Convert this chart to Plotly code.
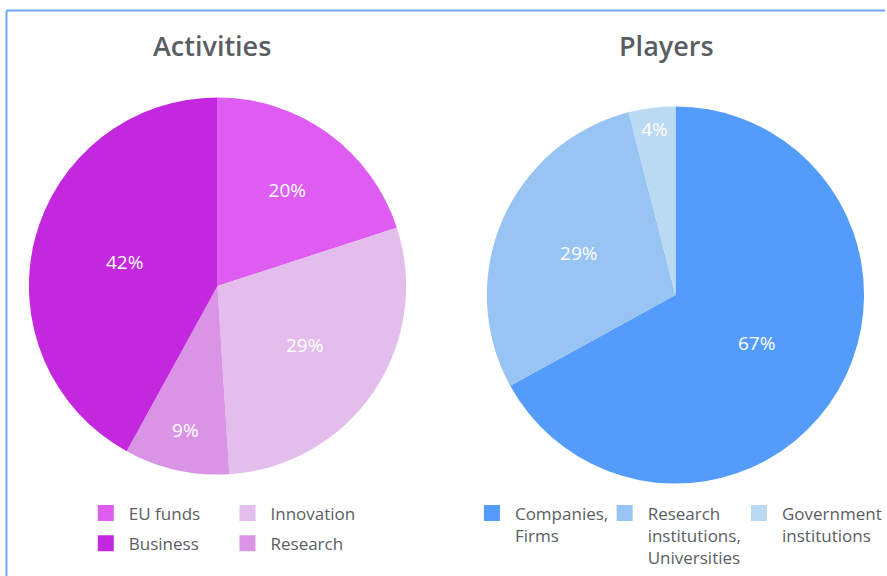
import plotly.graph_objects as go

# Activities pie
act_labels = ["EU funds", "Innovation", "Research", "Business"]
act_values = [20, 29, 9, 42]
act_colors = ["#df5cf2", "#e3bdeb", "#d994e6", "#c428de"]

# Players pie
pl_labels = ["Companies,<br>Firms", "Research<br>institutions,<br>Universities", "Government<br>institutions"]
pl_values = [67, 29, 4]
pl_colors = ["#539cfb", "#98c4f4", "#bad9f2"]

W, H = 887, 576
txt = "#5a5e63"
font = "Open Sans"


def px_x(x):
    return x / W


def px_y(y):
    return 1 - y / H


fig = go.Figure()

fig.add_trace(go.Pie(
    labels=act_labels, values=act_values, sort=False, direction="clockwise",
    marker=dict(colors=act_colors), texttemplate="%{value}%", textposition="inside",
    insidetextorientation="horizontal", textfont=dict(color="white", size=19, family=font),
    showlegend=False, hoverinfo="label+value",
    domain=dict(x=[px_x(29), px_x(407)], y=[px_y(475), px_y(97)]),
))
fig.add_trace(go.Pie(
    labels=pl_labels, values=pl_values, sort=False, direction="clockwise",
    marker=dict(colors=pl_colors), texttemplate="%{value}%", textposition="inside",
    insidetextorientation="horizontal", textfont=dict(color="white", size=19, family=font),
    showlegend=False, hoverinfo="label+value",
    domain=dict(x=[px_x(488), px_x(866)], y=[px_y(484), px_y(106)]),
))

# legend entries: columns laid out like the original
legend_of = {
    "EU funds": "legend", "Business": "legend", "Innovation": "legend2", "Research": "legend2",
}
for lab in ["EU funds", "Business", "Innovation", "Research"]:
    fig.add_trace(go.Scatter(
        x=[None], y=[None], mode="markers", name=lab, legend=legend_of[lab], legendgroup=lab,
        marker=dict(symbol="square", size=19, color=act_colors[act_labels.index(lab)]),
    ))
for i, lab in enumerate(pl_labels):
    fig.add_trace(go.Scatter(
        x=[None], y=[None], mode="markers", name=lab, legend=["legend3", "legend4", "legend5"][i],
        marker=dict(symbol="square", size=19, color=pl_colors[i]),
    ))

leg_common = dict(font=dict(size=17, color=txt, family=font), bgcolor="rgba(0,0,0,0)",
                  xanchor="left", yanchor="top", tracegroupgap=5, valign="top",
                  orientation="v", itemwidth=36)
fig.update_layout(
    width=W, height=H, margin=dict(l=0, r=0, t=0, b=0),
    paper_bgcolor="white", plot_bgcolor="white",
    xaxis=dict(visible=False), yaxis=dict(visible=False),
    legend=dict(x=px_x(83), y=px_y(495.5), **leg_common),
    legend2=dict(x=px_x(225), y=px_y(495.5), **leg_common),
    legend3=dict(x=px_x(470), y=px_y(495.5), **leg_common),
    legend4=dict(x=px_x(603), y=px_y(495.5), **leg_common),
    legend5=dict(x=px_x(738), y=px_y(495.5), **leg_common),
    annotations=[
        dict(text="Activities", x=px_x(212), y=px_y(45), xref="paper", yref="paper",
             xanchor="center", yanchor="middle", showarrow=False,
             font=dict(size=27, color=txt, family=font, weight=600)),
        dict(text="Players", x=px_x(668), y=px_y(45), xref="paper", yref="paper",
             xanchor="center", yanchor="middle", showarrow=False,
             font=dict(size=27, color=txt, family=font, weight=600)),
    ],
    shapes=[
        dict(type="line", xref="paper", yref="paper", x0=px_x(6.5), x1=1.0, y0=px_y(10.5), y1=px_y(10.5),
             line=dict(color="#6aa8fd", width=2)),
        dict(type="line", xref="paper", yref="paper", x0=px_x(6.5), x1=px_x(6.5), y0=px_y(10.5), y1=0,
             line=dict(color="#6aa8fd", width=2)),
    ],
)

# the default page body margin would push the 887x576 figure off the window
fig.write_html("out.html", config={"displayModeBar": False},
               post_script="document.body.style.margin = '0';")
